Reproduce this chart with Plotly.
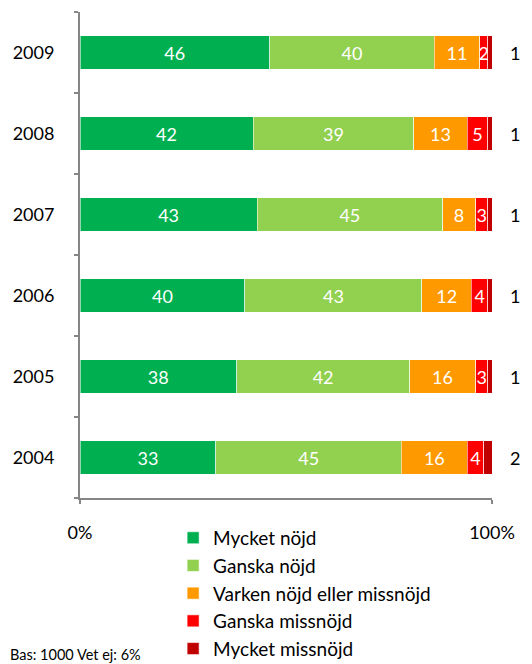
import plotly.graph_objects as go

years = ["2004", "2005", "2006", "2007", "2008", "2009"]
series_names = ["Mycket nöjd", "Ganska nöjd", "Varken nöjd eller missnöjd",
                "Ganska missnöjd", "Mycket missnöjd"]
mycket_nojd = [33, 38, 40, 43, 42, 46]
ganska_nojd = [45, 42, 43, 45, 39, 40]
varken = [16, 16, 12, 8, 13, 11]
ganska_missnojd = [4, 3, 4, 3, 5, 2]
mycket_missnojd = [2, 1, 1, 1, 1, 1]
colors = ["#00B050", "#92D050", "#FF9900", "#FF0000", "#C00000"]
tick_vals = [0, 100]
tick_text = ["0%", "100%"]
note = "Bas: 1000 Vet ej: 6%"

FONT = "Lato"
values = [mycket_nojd, ganska_nojd, varken, ganska_missnojd, mycket_missnojd]

fig = go.Figure()
for i, (name, vals, col) in enumerate(zip(series_names, values, colors)):
    last = i == len(values) - 1
    fig.add_trace(go.Bar(
        y=years, x=vals, name=name, orientation="h",
        marker=dict(color=col, line=dict(color="rgba(255,255,255,0.55)", width=1)),
        texttemplate="" if last else "%{x}",
        textposition="inside",
        insidetextanchor="middle",
        constraintext="none",
        textfont=dict(family=FONT, size=18, color="white"),
        legendgroup=f"g{i}",
        hoverinfo="skip",
    ))

annotations = []
totals = [sum(v[j] for v in values) for j in range(len(years))]
for j, yr in enumerate(years):
    # category axis: annotation position uses the category index
    annotations.append(dict(
        x=totals[j], y=j, xref="x", yref="y", text=str(mycket_missnojd[j]),
        xanchor="left", yanchor="middle", xshift=16, showarrow=False,
        font=dict(family=FONT, size=18, color="black"),
    ))
annotations.append(dict(
    text=note, xref="paper", yref="paper", x=-0.175, y=-0.323,
    xanchor="left", yanchor="middle", showarrow=False,
    font=dict(family=FONT, size=14.5, color="black"),
))

fig.update_layout(
    barmode="stack",
    bargap=0.59,
    width=532, height=664,
    margin=dict(l=80, r=40, t=12, b=166, autoexpand=False),
    paper_bgcolor="white", plot_bgcolor="white",
    font=dict(family=FONT, size=18, color="black"),
    showlegend=True,
    legend=dict(
        x=0.226, y=-0.043, xanchor="left", yanchor="top",
        orientation="v", traceorder="grouped", tracegroupgap=0,
        font=dict(family=FONT, size=19, color="black"),
        bgcolor="rgba(0,0,0,0)",
    ),
    xaxis=dict(
        range=[0, 100], tickvals=tick_vals, ticktext=tick_text,
        showgrid=False, zeroline=False, automargin=False,
        showline=True, linecolor="#868686", linewidth=2,
        ticks="outside", ticklen=4, tickcolor="#868686", tickwidth=2,
        ticklabelstandoff=13,
        tickfont=dict(family=FONT, size=18, color="black"),
    ),
    yaxis=dict(
        type="category", categoryorder="array", categoryarray=years,
        range=[-0.5, 5.5],
        showgrid=False, zeroline=False, automargin=False,
        showline=True, linecolor="#868686", linewidth=2,
        ticks="outside", ticklen=4, tickcolor="#868686", tickwidth=2,
        tickson="boundaries", ticklabelstandoff=20,
        tickfont=dict(family=FONT, size=18, color="black"),
    ),
    annotations=annotations,
)

fig.write_html("out.html", config={"displayModeBar": False},
               post_script="document.body.style.margin='0';")
